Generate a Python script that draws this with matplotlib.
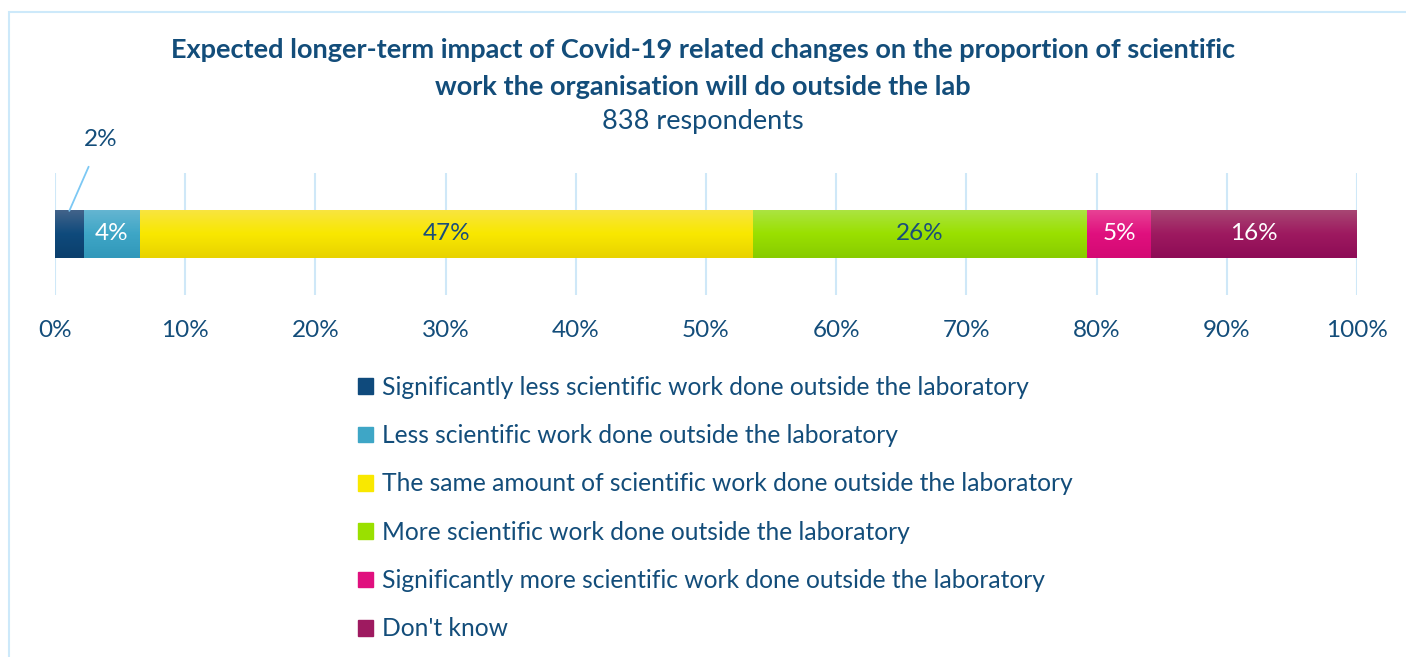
import numpy as np
import matplotlib
matplotlib.use("Agg")
from matplotlib import pyplot as plt
from matplotlib.patches import Rectangle
from matplotlib.colors import LinearSegmentedColormap

categories = [
    "Significantly less scientific work done outside the laboratory",
    "Less scientific work done outside the laboratory",
    "The same amount of scientific work done outside the laboratory",
    "More scientific work done outside the laboratory",
    "Significantly more scientific work done outside the laboratory",
    "Don't know",
]
values = [2.2, 4.3, 47.1, 25.7, 4.9, 15.8]
labels = ["2%", "4%", "47%", "26%", "5%", "16%"]
ticks = list(range(0, 101, 10))

# (top colour, mid colour, bottom colour) for the gradient fill
colours = [
    ("#44648a", "#0f4a7c", "#0b3f6c"),
    ("#66b6d2", "#3ea6c6", "#3298ba"),
    ("#f8e442", "#f9e800", "#e8d300"),
    ("#ace444", "#9ae000", "#88cc00"),
    ("#e84496", "#e0107e", "#d40a74"),
    ("#a84874", "#9e1a60", "#8e0c56"),
]
label_colours = ["#1a4e7a", "white", "#1a4e7a", "#1a4e7a", "white", "white"]
text_col = "#134d7a"
grid_col = "#cfe8f8"

plt.rcParams['font.family'] = ['Lato', 'DejaVu Sans']

fig = plt.figure(figsize=(14.06, 6.57), dpi=100)
ax = fig.add_axes([55 / 1406, 1 - 295 / 657, 1302 / 1406, 122 / 657])

left = 0
bars = []
for v, c in zip(values, colours):
    b = ax.barh(0, v, left=left, height=0.8, color=c[1], zorder=2)
    bars.append(b[0])
    left += v

# vertical gradient on each bar
for b, c in zip(bars, colours):
    cmap = LinearSegmentedColormap.from_list("g", [c[2], c[1], c[0]])
    grad = np.linspace(0, 1, 64).reshape(-1, 1)
    x0, y0 = b.get_x(), b.get_y()
    im = ax.imshow(grad, cmap=cmap, origin="lower", aspect="auto",
                   extent=[x0, x0 + b.get_width(), y0, y0 + b.get_height()],
                   zorder=3)
    im.set_clip_path(b)
ax.set_xlim(0, 100)
ax.set_ylim(-1, 1)

for i, (b, lab) in enumerate(zip(bars, labels)):
    cx = b.get_x() + b.get_width() / 2
    if i == 0:
        ax.annotate(lab, xy=(cx, 0.38), xytext=(3.5, 1.55),
                    ha="center", va="center", fontsize=17.5, color=text_col,
                    arrowprops=dict(arrowstyle="-", color="#7cc8f4", lw=1.3,
                                    shrinkA=11, shrinkB=0), zorder=5,
                    annotation_clip=False)
    else:
        ax.text(cx, 0, lab, ha="center", va="center", fontsize=17.5,
                color=label_colours[i], zorder=5)

ax.set_xticks(ticks)
ax.set_xticklabels([f"{t}%" for t in ticks])
ax.set_yticks([])
ax.grid(axis="x", color=grid_col, lw=1.5, zorder=0)
ax.tick_params(axis="x", length=0, pad=18, labelsize=17.5, labelcolor=text_col)
for s in ax.spines.values():
    s.set_visible(False)

fig.text(0.5, 1 - 50 / 657, "Expected longer-term impact of Covid-19 related changes on the proportion of scientific",
         ha="center", va="center", fontsize=19.5, fontweight="bold", color=text_col)
fig.text(0.5, 1 - 87 / 657, "work the organisation will do outside the lab",
         ha="center", va="center", fontsize=19.5, fontweight="bold", color=text_col)
fig.text(0.5, 1 - 122 / 657, "838 respondents",
         ha="center", va="center", fontsize=19.5, color=text_col)

handles = [Rectangle((0, 0), 1, 1, color=c[1]) for c in colours]
fig.legend(handles, categories, loc="upper left",
           bbox_to_anchor=(348 / 1406, 1 - 366 / 657), frameon=False,
           fontsize=17.7, labelcolor=text_col, handlelength=0.6, handleheight=0.6,
           handletextpad=0.4, labelspacing=1.03, borderaxespad=0)

# light blue frame around the chart area
fig.patches.append(Rectangle((9 / 1406, -0.05), 1.2, 1 - 12 / 657 + 0.05,
                             transform=fig.transFigure, fill=False,
                             edgecolor="#cde9fa", lw=1.5))

fig.savefig("out.png", dpi=100)
